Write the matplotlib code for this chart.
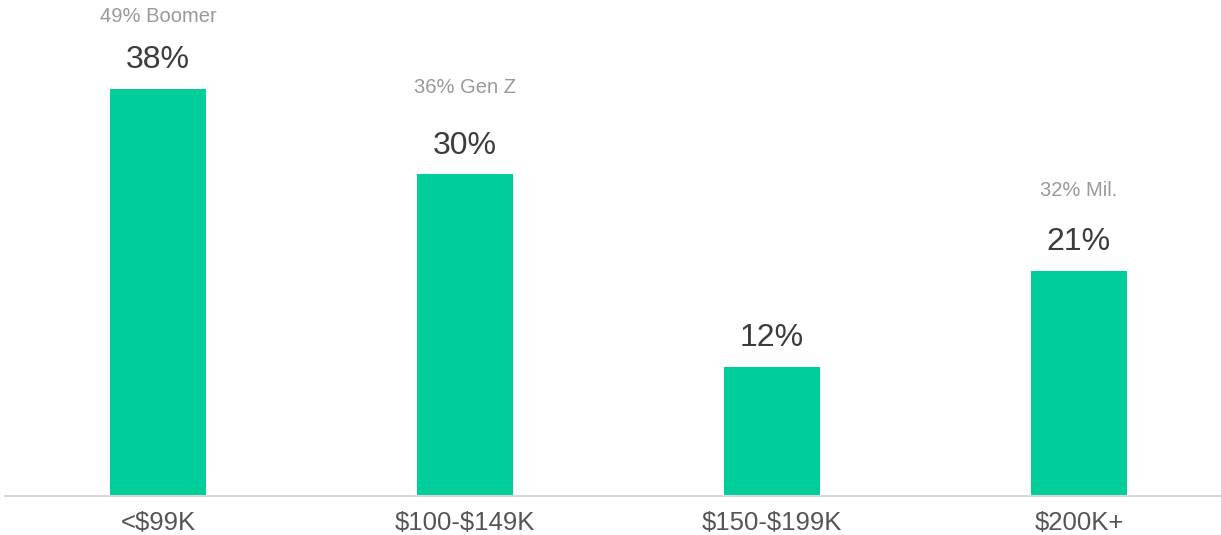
import matplotlib
matplotlib.use("Agg")
import matplotlib.pyplot as plt

categories = ["<$99K", "$100-$149K", "$150-$199K", "$200K+"]
values = [38, 30, 12, 21]
value_labels = ["38%", "30%", "12%", "21%"]
notes = ["49% Boomer", "36% Gen Z", "", "32% Mil."]
note_offsets_pt = [45, 56, 0, 51]  # vertical offsets above bar tops (points)

plt.rcParams['font.family'] = ['Liberation Sans', 'DejaVu Sans']
plt.rcParams['text.parse_math'] = False

fig = plt.figure(figsize=(12.21, 5.35), dpi=100)
ax = fig.add_axes([5/1221, 39/535, 1 - 5/1221, 496/535])

x = list(range(len(categories)))
bars = ax.bar(x, values, width=0.313, color="#00CE9A")

ax.set_xlim(-0.498, 3.463)
ax.set_ylim(0, 496/10.72)

for xi, v, lab, note, off in zip(x, values, value_labels, notes, note_offsets_pt):
    ax.annotate(lab, (xi, v), xytext=(0, 10), textcoords="offset points",
                ha="center", va="bottom", fontsize=23, color="#3c3c3c")
    if note:
        ax.annotate(note, (xi, v), xytext=(0, off), textcoords="offset points",
                    ha="center", va="bottom", fontsize=14.5, color="#999999")

for s in ["top", "right", "left"]:
    ax.spines[s].set_visible(False)
ax.spines["bottom"].set_color("#d9d9d9")
ax.spines["bottom"].set_linewidth(1.5)
ax.set_yticks([])
ax.set_xticks(x)
ax.set_xticklabels(categories, fontsize=18.5, color="#555555")
ax.tick_params(axis="x", length=0, pad=11)

fig.savefig("out.png", dpi=100)
